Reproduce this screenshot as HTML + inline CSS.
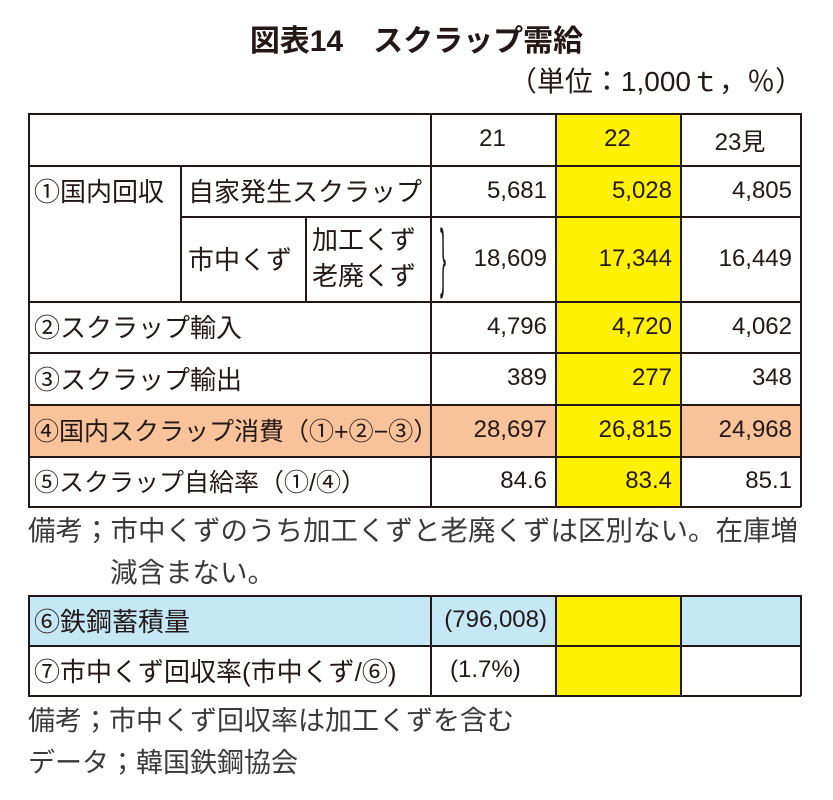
<!DOCTYPE html>
<html><head><meta charset="utf-8"><style>
body{margin:0;width:833px;height:800px;background:#fff;position:relative;overflow:hidden;font-family:"Liberation Sans","Noto Sans CJK JP",sans-serif;color:#231815}
.a{position:absolute}
.c{position:absolute;box-sizing:border-box;display:flex;align-items:center;font-size:24px;white-space:nowrap}
.r{justify-content:flex-end;padding-right:8px}
.l{padding-left:6px;font-size:25px}
.h{position:absolute;background:#231815;height:1.5px}
.v{position:absolute;background:#231815;width:1.5px}
</style></head><body>
<div class="a" style="left:0;width:833px;top:16px;text-align:center;font-size:30px;font-weight:bold">図表14　スクラップ需給</div>
<div class="a" style="right:30px;top:60px;font-size:28px">（単位：1,000ｔ，％）</div>

<div>
<div class="a" style="left:555px;top:113px;width:125px;height:393px;background:#fff200"></div>
<div class="a" style="left:28px;top:404px;width:527px;height:52px;background:#f8c29a"></div>
<div class="a" style="left:680px;top:404px;width:120px;height:52px;background:#f8c29a"></div>
<div class="h" style="left:28px;width:773px;top:113px"></div>
<div class="h" style="left:28px;width:773px;top:165px"></div>
<div class="h" style="left:180px;width:621px;top:216px"></div>
<div class="h" style="left:28px;width:773px;top:301px"></div>
<div class="h" style="left:28px;width:773px;top:352px"></div>
<div class="h" style="left:28px;width:773px;top:404px"></div>
<div class="h" style="left:28px;width:773px;top:456px"></div>
<div class="h" style="left:28px;width:773px;top:506px"></div>
<div class="v" style="left:28px;top:113px;height:394px"></div>
<div class="v" style="left:180px;top:165px;height:136px"></div>
<div class="v" style="left:305px;top:216px;height:85px"></div>
<div class="v" style="left:430px;top:113px;height:394px"></div>
<div class="v" style="left:555px;top:113px;height:394px"></div>
<div class="v" style="left:680px;top:113px;height:394px"></div>
<div class="v" style="left:800px;top:113px;height:394px"></div>

<div class="c" style="left:430px;top:113px;width:125px;height:52px;justify-content:center">21</div>
<div class="c" style="left:555px;top:113px;width:125px;height:52px;justify-content:center">22</div>
<div class="c" style="left:680px;top:113px;width:120px;height:52px;justify-content:center">23見</div>

<div class="c l" style="left:28px;top:165px;height:51px;font-size:26px">①国内回収</div>
<div class="c l" style="left:182px;top:165px;height:51px;font-size:26px">自家発生スクラップ</div>
<div class="c r" style="left:430px;top:165px;width:125px;height:51px">5,681</div>
<div class="c r" style="left:555px;top:165px;width:125px;height:51px">5,028</div>
<div class="c r" style="left:680px;top:165px;width:120px;height:51px">4,805</div>

<div class="c l" style="left:182px;top:216px;height:85px;font-size:26px">市中くず</div>
<div class="a" style="left:312px;top:222px;font-size:26px;line-height:36px">加工くず<br>老廃くず</div>
<div class="a" style="left:440px;top:220px;font-size:40px;line-height:40px;transform:scale(0.45,1.9);transform-origin:left top">}</div>
<div class="c r" style="left:430px;top:216px;width:125px;height:85px">18,609</div>
<div class="c r" style="left:555px;top:216px;width:125px;height:85px">17,344</div>
<div class="c r" style="left:680px;top:216px;width:120px;height:85px">16,449</div>

<div class="c l" style="left:28px;top:301px;height:51px;font-size:26px">②スクラップ輸入</div>
<div class="c r" style="left:430px;top:301px;width:125px;height:51px">4,796</div>
<div class="c r" style="left:555px;top:301px;width:125px;height:51px">4,720</div>
<div class="c r" style="left:680px;top:301px;width:120px;height:51px">4,062</div>

<div class="c l" style="left:28px;top:352px;height:52px;font-size:26px">③スクラップ輸出</div>
<div class="c r" style="left:430px;top:352px;width:125px;height:52px">389</div>
<div class="c r" style="left:555px;top:352px;width:125px;height:52px">277</div>
<div class="c r" style="left:680px;top:352px;width:120px;height:52px">348</div>

<div class="c l" style="left:28px;top:404px;height:52px">④国内スクラップ消費（①+②−③）</div>
<div class="c r" style="left:430px;top:404px;width:125px;height:52px">28,697</div>
<div class="c r" style="left:555px;top:404px;width:125px;height:52px">26,815</div>
<div class="c r" style="left:680px;top:404px;width:120px;height:52px">24,968</div>

<div class="c l" style="left:28px;top:456px;height:50px">⑤スクラップ自給率（①/④）</div>
<div class="c r" style="left:430px;top:456px;width:125px;height:50px">84.6</div>
<div class="c r" style="left:555px;top:456px;width:125px;height:50px">83.4</div>
<div class="c r" style="left:680px;top:456px;width:120px;height:50px">85.1</div>
</div>

<div class="a" style="left:28px;top:510px;font-size:27.5px;line-height:42px;color:#3a3a3a;white-space:nowrap">備考；市中くずのうち加工くずと老廃くずは区別ない。在庫増<br><span style="padding-left:82px">減含まない。</span></div>

<div>
<div class="a" style="left:28px;top:595px;width:772px;height:50px;background:#c5e8f7"></div>
<div class="a" style="left:555px;top:595px;width:125px;height:100px;background:#fff200"></div>
<div class="h" style="left:28px;width:773px;top:595px"></div>
<div class="h" style="left:28px;width:773px;top:645px"></div>
<div class="h" style="left:28px;width:773px;top:695px"></div>
<div class="v" style="left:28px;top:595px;height:101px"></div>
<div class="v" style="left:430px;top:595px;height:101px"></div>
<div class="v" style="left:555px;top:595px;height:101px"></div>
<div class="v" style="left:680px;top:595px;height:101px"></div>
<div class="v" style="left:800px;top:595px;height:101px"></div>
<div class="c l" style="left:28px;top:595px;height:50px;font-size:26px">⑥鉄鋼蓄積量</div>
<div class="c r" style="left:430px;top:595px;width:125px;height:50px">(796,008)</div>
<div class="c l" style="left:28px;top:645px;height:50px;font-size:26px">⑦市中くず回収率(市中くず/⑥)</div>
<div class="c" style="left:430px;top:645px;width:125px;height:50px;padding-left:20px">(1.7%)</div>
</div>

<div class="a" style="left:28px;top:700px;font-size:27px;line-height:42px;color:#3a3a3a;white-space:nowrap">備考；市中くず回収率は加工くずを含む<br>データ；韓国鉄鋼協会</div>
</body></html>
